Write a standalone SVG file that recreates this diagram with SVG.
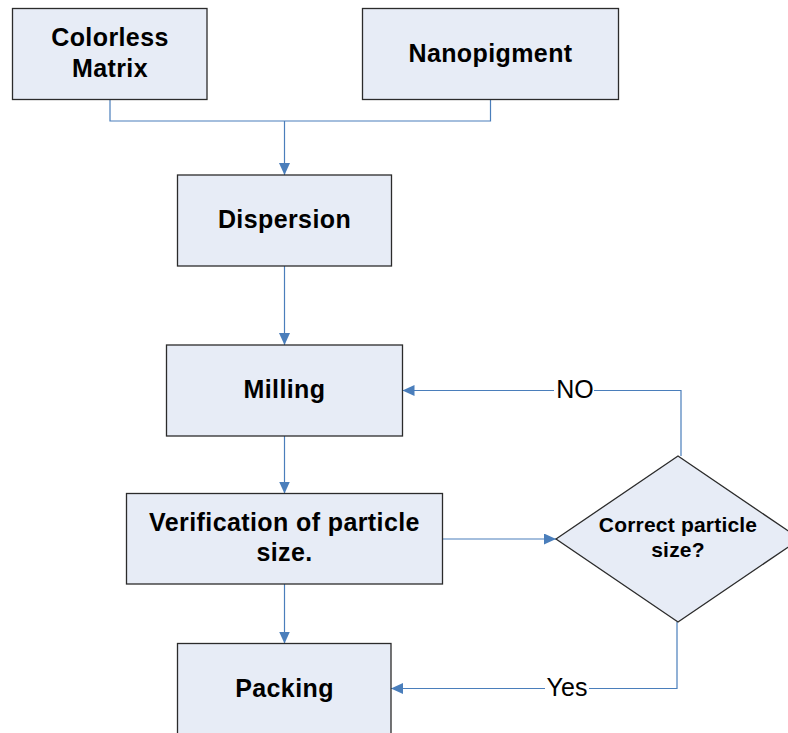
<svg xmlns="http://www.w3.org/2000/svg" width="788" height="733" viewBox="0 0 788 733">
<style>
.box{fill:#e7ecf6;stroke:#2b2b2b;stroke-width:1.3}
.t{font-family:"Liberation Sans",Arial,sans-serif;font-weight:bold;font-size:25px;letter-spacing:0.4px;fill:#000;text-anchor:middle}
.td{font-family:"Liberation Sans",Arial,sans-serif;font-weight:bold;font-size:21px;letter-spacing:0.2px;fill:#000;text-anchor:middle}
.lbl{font-family:"Liberation Sans",Arial,sans-serif;font-size:25px;fill:#000;text-anchor:middle}
.c{fill:none;stroke:#4a7ebb;stroke-width:1.2}
</style>
<defs>
<marker id="ah" markerUnits="userSpaceOnUse" markerWidth="12" markerHeight="11" refX="12" refY="5.5" orient="auto">
<path d="M0,0 L12,5.5 L0,11 Z" fill="#4a7ebb"/>
</marker>
</defs>
<rect width="788" height="733" fill="#fff"/>
<g id="connectors">
<path class="c" d="M110,100 V121 H490.5 V100"/>
<path class="c" d="M284.5,121 V175" marker-end="url(#ah)"/>
<path class="c" d="M284.5,266 V345" marker-end="url(#ah)"/>
<path class="c" d="M284.5,436 V493.5" marker-end="url(#ah)"/>
<path class="c" d="M442.5,539 H556" marker-end="url(#ah)"/>
<path class="c" d="M284.5,584 V643.5" marker-end="url(#ah)"/>
<path class="c" d="M681,456 V390.5 H402.5" marker-end="url(#ah)"/>
<path class="c" d="M677,622 V688.5 H391" marker-end="url(#ah)"/>
<rect x="554" y="377" width="40" height="26" fill="#fff"/>
<text class="lbl" x="575" y="398">NO</text>
<rect x="545" y="676" width="44" height="26" fill="#fff"/>
<text class="lbl" x="567" y="696">Yes</text>
</g>
<g id="colorless-matrix">
<rect class="box" x="12.5" y="8.5" width="194.5" height="91"/>
<text class="t" x="110" y="46">Colorless</text>
<text class="t" x="110" y="77">Matrix</text>
</g>
<g id="nanopigment">
<rect class="box" x="362.5" y="8.5" width="256" height="91"/>
<text class="t" x="490.5" y="62">Nanopigment</text>
</g>
<g id="dispersion">
<rect class="box" x="177.5" y="175" width="214" height="91"/>
<text class="t" x="284.5" y="228">Dispersion</text>
</g>
<g id="milling">
<rect class="box" x="166.5" y="345" width="236" height="91"/>
<text class="t" x="284.5" y="398">Milling</text>
</g>
<g id="verification">
<rect class="box" x="126.5" y="493.5" width="316" height="90.5"/>
<text class="t" x="284.5" y="531">Verification of particle</text>
<text class="t" x="284.5" y="561">size.</text>
</g>
<g id="decision">
<polygon class="box" points="556,539 678,456 800,539 678,622"/>
<text class="td" x="678" y="532">Correct particle</text>
<text class="td" x="678" y="557">size?</text>
</g>
<g id="packing">
<rect class="box" x="177.5" y="643.5" width="213.5" height="100"/>
<text class="t" x="284.5" y="697">Packing</text>
</g>
</svg>
